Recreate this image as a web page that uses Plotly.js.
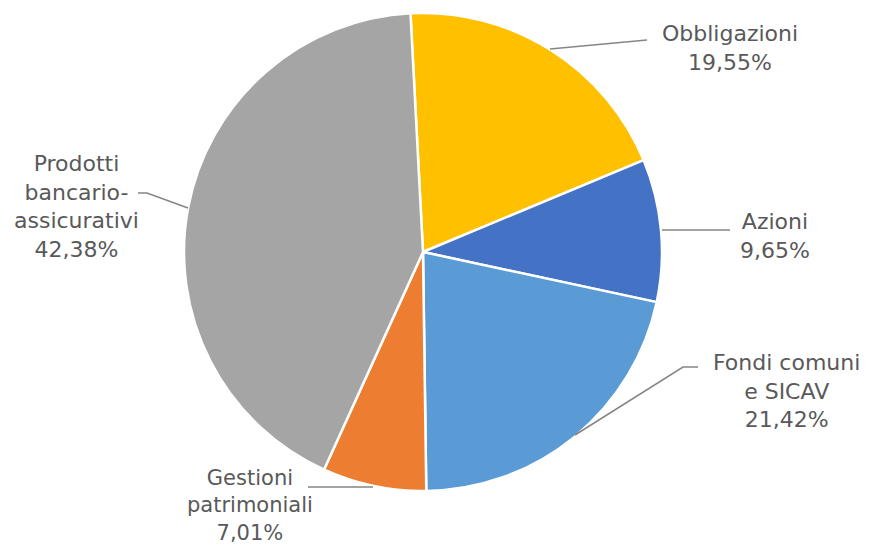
<!DOCTYPE html>
<html>
<head>
<meta charset="utf-8">
<script src="https://cdn.plot.ly/plotly-3.0.1.min.js"></script>
<style>html,body{margin:0;padding:0;background:#fff;}#chart{width:871px;height:547px;}</style>
</head>
<body>
<div id="chart"></div>
<script>
var categories = ["Obbligazioni", "Azioni", "Fondi comuni e SICAV", "Gestioni patrimoniali", "Prodotti bancario-assicurativi"];
var labelLines = ["Obbligazioni", "Azioni", "Fondi comuni<br>e SICAV", "Gestioni<br>patrimoniali", "Prodotti<br>bancario-<br>assicurativi"];
var values = [19.55, 9.65, 21.42, 7.01, 42.38];
var colors = ["#FFC000", "#4472C4", "#5B9BD5", "#ED7D31", "#A5A5A5"];

var W = 871, H = 547;
function px(x){ return x / W; }
function py(y){ return 1 - y / H; }
function fmt(v){ return v.toFixed(2).replace('.', ',') + '%'; }

// label anchor positions (pixel) and leader line paths (pixel)
var labelPos = [[730, 48], [775, 236], [786, 391], [250, 505], [76, 206]];
var leaders = [
  [[550, 49], [647, 40]],
  [[662, 230], [730, 230]],
  [[575, 435], [683, 367], [698, 367]],
  [[373, 487], [308, 487]],
  [[188, 208], [147, 193], [138, 193]]
];

var trace = {
  type: 'pie',
  labels: categories,
  values: values,
  marker: {colors: colors, line: {color: '#ffffff', width: 2.5}},
  sort: false,
  direction: 'clockwise',
  rotation: -3,
  textinfo: 'none',
  hoverinfo: 'label+percent',
  showlegend: false,
  domain: {x: [px(184), px(662)], y: [py(491), py(13)]}
};

var annotations = categories.map(function(c, i){
  return {
    xref: 'paper', yref: 'paper',
    x: px(labelPos[i][0]), y: py(labelPos[i][1]),
    xanchor: 'center', yanchor: 'middle',
    text: labelLines[i] + '<br>' + fmt(values[i]),
    showarrow: false,
    align: 'center',
    font: {family: 'DejaVu Sans, sans-serif', size: (i === 3 ? 21 : 22), color: '#595959'}
  };
});

var shapes = leaders.map(function(pts){
  var path = pts.map(function(p, k){ return (k === 0 ? 'M' : 'L') + px(p[0]) + ',' + py(p[1]); }).join(' ');
  return {type: 'path', xref: 'paper', yref: 'paper', path: path, line: {color: '#858585', width: 1.5}};
});

var layout = {
  width: W, height: H,
  margin: {l: 0, r: 0, t: 0, b: 0},
  paper_bgcolor: '#ffffff',
  annotations: annotations,
  shapes: shapes
};

Plotly.newPlot('chart', [trace], layout, {displayModeBar: false, staticPlot: true});
</script>
</body>
</html>
